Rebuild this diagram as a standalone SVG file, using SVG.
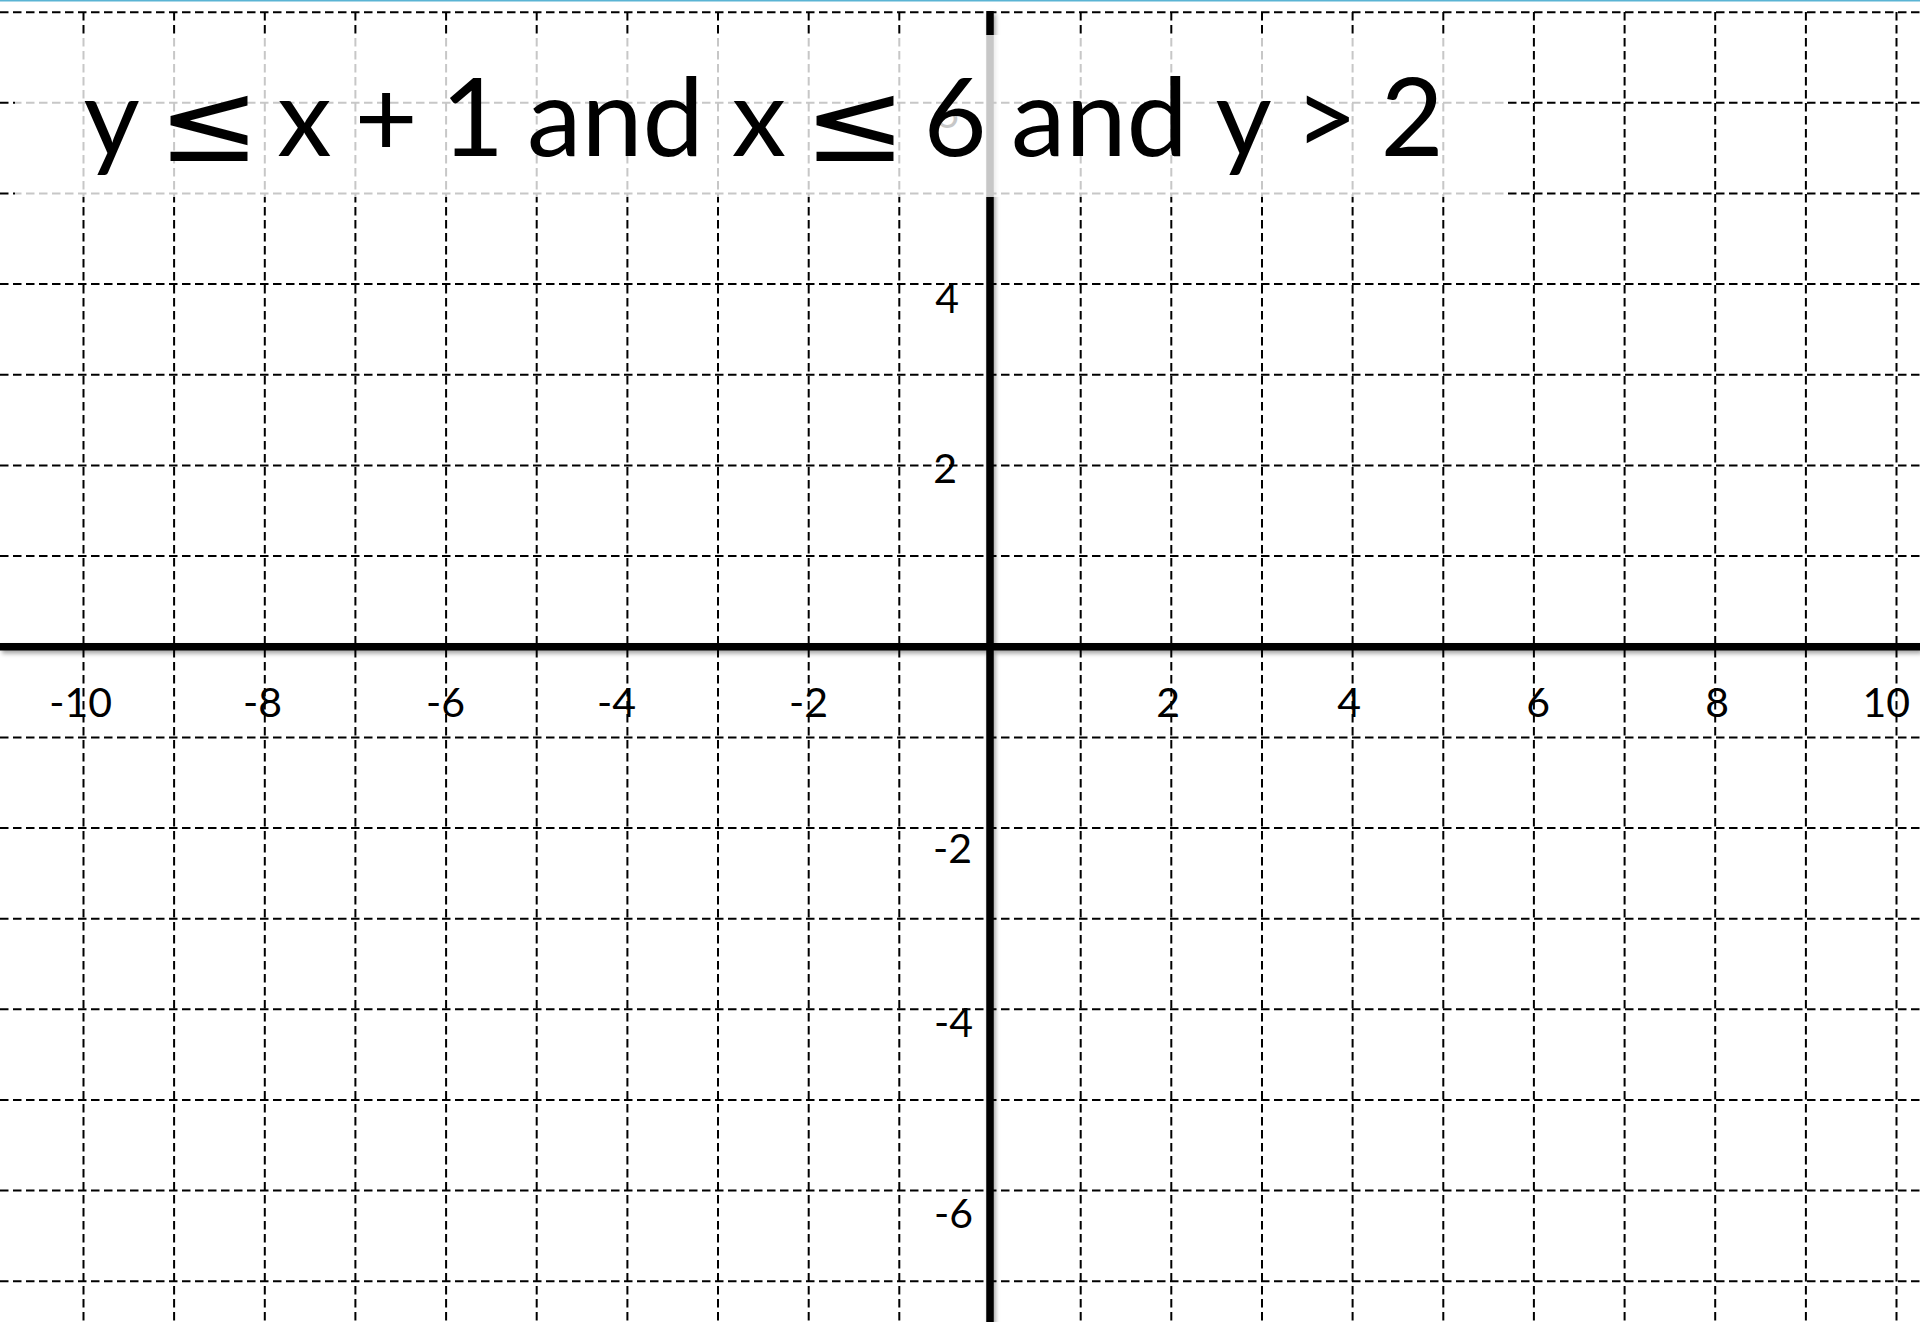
<svg xmlns="http://www.w3.org/2000/svg" width="1920" height="1322" viewBox="0 0 1920 1322">
<defs>
<style>
.g{stroke:#000;stroke-width:2;stroke-dasharray:8.5 4.5;fill:none}
.ax{stroke:#000;stroke-width:7.5;fill:none}
.lb{font-family:Lato,"Open Sans","Liberation Sans",sans-serif;font-size:41px;fill:#000;text-anchor:end}
.tt{font-family:Lato,"Open Sans","Liberation Sans",sans-serif;font-size:109px;fill:#000}
.tc{text-anchor:middle}
.le{font-family:"DejaVu Sans","Liberation Sans",sans-serif;font-size:112px;fill:#000;text-anchor:middle}
</style>
<filter id="sh" x="-5%" y="-5%" width="110%" height="110%">
<feDropShadow dx="2" dy="3" stdDeviation="2" flood-color="#000" flood-opacity="0.35"/>
</filter>
</defs>
<rect x="0" y="0" width="1920" height="1322" fill="#fff"/>
<line x1="0" y1="0.8" x2="1920" y2="0.8" stroke="#5ab4d4" stroke-width="1.6"/>
<g id="connectors">
<g id="grid-vertical">
<line class="g" x1="83.5" y1="12" x2="83.5" y2="1322"/>
<line class="g" x1="174.1" y1="12" x2="174.1" y2="1322"/>
<line class="g" x1="264.8" y1="12" x2="264.8" y2="1322"/>
<line class="g" x1="355.4" y1="12" x2="355.4" y2="1322"/>
<line class="g" x1="446.1" y1="12" x2="446.1" y2="1322"/>
<line class="g" x1="536.7" y1="12" x2="536.7" y2="1322"/>
<line class="g" x1="627.4" y1="12" x2="627.4" y2="1322"/>
<line class="g" x1="718" y1="12" x2="718" y2="1322"/>
<line class="g" x1="808.7" y1="12" x2="808.7" y2="1322"/>
<line class="g" x1="899.3" y1="12" x2="899.3" y2="1322"/>
<line class="g" x1="1080.7" y1="12" x2="1080.7" y2="1322"/>
<line class="g" x1="1171.3" y1="12" x2="1171.3" y2="1322"/>
<line class="g" x1="1262" y1="12" x2="1262" y2="1322"/>
<line class="g" x1="1352.6" y1="12" x2="1352.6" y2="1322"/>
<line class="g" x1="1443.3" y1="12" x2="1443.3" y2="1322"/>
<line class="g" x1="1533.9" y1="12" x2="1533.9" y2="1322"/>
<line class="g" x1="1624.6" y1="12" x2="1624.6" y2="1322"/>
<line class="g" x1="1715.2" y1="12" x2="1715.2" y2="1322"/>
<line class="g" x1="1805.9" y1="12" x2="1805.9" y2="1322"/>
<line class="g" x1="1896.5" y1="12" x2="1896.5" y2="1322"/>
</g>
<g id="grid-horizontal">
<line class="g" x1="0" y1="12.2" x2="1920" y2="12.2"/>
<line class="g" x1="0" y1="102.8" x2="1920" y2="102.8"/>
<line class="g" x1="0" y1="193.5" x2="1920" y2="193.5"/>
<line class="g" x1="0" y1="284.1" x2="1920" y2="284.1"/>
<line class="g" x1="0" y1="374.8" x2="1920" y2="374.8"/>
<line class="g" x1="0" y1="465.4" x2="1920" y2="465.4"/>
<line class="g" x1="0" y1="556.1" x2="1920" y2="556.1"/>
<line class="g" x1="0" y1="737.4" x2="1920" y2="737.4"/>
<line class="g" x1="0" y1="828" x2="1920" y2="828"/>
<line class="g" x1="0" y1="918.7" x2="1920" y2="918.7"/>
<line class="g" x1="0" y1="1009.3" x2="1920" y2="1009.3"/>
<line class="g" x1="0" y1="1100" x2="1920" y2="1100"/>
<line class="g" x1="0" y1="1190.6" x2="1920" y2="1190.6"/>
<line class="g" x1="0" y1="1281.3" x2="1920" y2="1281.3"/>
</g>
<g id="axes" filter="url(#sh)">
<line class="ax" x1="0" y1="646.7" x2="1920" y2="646.7"/>
<line class="ax" x1="990" y1="11" x2="990" y2="1322"/>
</g>
</g>
<g id="y-labels">
<text class="lb" x="959" y="128">6</text>
<text class="lb" x="959" y="313">4</text>
<text class="lb" x="957" y="483">2</text>
<text class="lb" x="972" y="863">-2</text>
<text class="lb" x="973" y="1037">-4</text>
<text class="lb" x="973" y="1228">-6</text>
</g>
<g id="x-labels">
<text class="lb" x="112" y="717">-10</text>
<text class="lb" x="282" y="717">-8</text>
<text class="lb" x="465" y="717">-6</text>
<text class="lb" x="636" y="717">-4</text>
<text class="lb" x="828" y="717">-2</text>
<text class="lb" x="1180" y="717">2</text>
<text class="lb" x="1361" y="717">4</text>
<text class="lb" x="1550" y="717">6</text>
<text class="lb" x="1729" y="717">8</text>
<text class="lb" x="1910" y="717">10</text>
</g>
<g id="title">
<rect x="15" y="35" width="1490" height="162" fill="#fff" fill-opacity="0.78"/>
<text class="tt tc" x="111.5" y="156">y</text>
<text class="le" x="209" y="161" textLength="103" lengthAdjust="spacingAndGlyphs">≤</text>
<text class="tt tc" x="304.5" y="156">x</text>
<text class="tt tc" x="386" y="156">+</text>
<text class="tt tc" x="472.5" y="156">1</text>
<text class="tt" x="527" y="156" textLength="177" lengthAdjust="spacingAndGlyphs">and</text>
<text class="tt tc" x="759" y="156">x</text>
<text class="le" x="855" y="161" textLength="103" lengthAdjust="spacingAndGlyphs">≤</text>
<text class="tt tc" x="955" y="156">6</text>
<text class="tt" x="1011" y="156" textLength="177" lengthAdjust="spacingAndGlyphs">and</text>
<text class="tt tc" x="1243.5" y="156">y</text>
<text class="tt tc" x="1326" y="156">&gt;</text>
<text class="tt tc" x="1412" y="156">2</text>
</g>
</svg>
